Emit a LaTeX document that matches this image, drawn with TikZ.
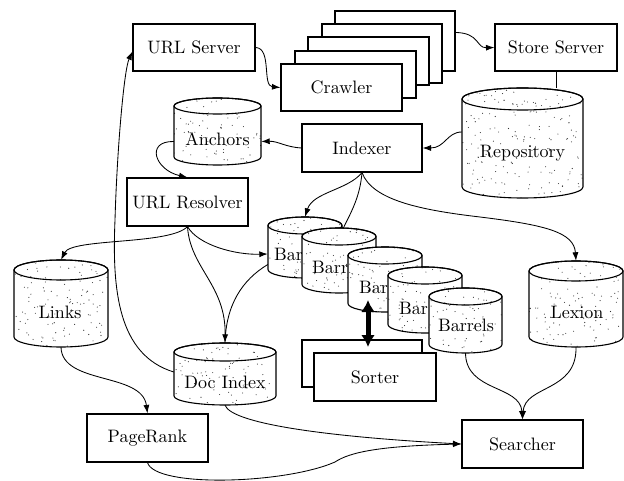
\documentclass[tikz,border=0pt]{standalone}
\usepackage{graphicx}
\usetikzlibrary{arrows.meta,calc}
\newcommand\tx[1]{\scalebox{1.8}{#1}}
\tikzset{
  box/.style={draw, line width=1.1pt, fill=white, inner sep=0pt, font=\fontsize{10}{12}\selectfont},
  conn/.style={line width=0.85pt, -{Latex[length=8.5pt,width=6pt]}},
  plain/.style={line width=0.85pt},
  lbl/.style={inner sep=0pt, font=\fontsize{10}{12}\selectfont},
  ghost/.style={inner sep=0pt, draw=none},
}
% name, xl, ytop, xr, ybottom, ry
\newcommand\mycyl[6]{%
  \pgfmathsetmacro\crx{(#4-#2)/2}%
  \pgfmathsetmacro\ctop{#3+#6}%
  \pgfmathsetmacro\cbot{#5-#6}%
  \pgfmathsetmacro\ccx{(#2+#4)/2}%
  \pgfmathsetmacro\ccy{(#3+#5)/2}%
  \pgfmathsetmacro\cw{#4-#2}%
  \pgfmathsetmacro\ch{#5-#3}%
  \pgfmathtruncatemacro\cn{(#4-#2)*(#5-#3)/75}%
  \draw[line width=1.1pt, fill=white, path picture={
      \foreach \k in {1,...,\cn}{
        \fill[black!80] (#2+rnd*\cw, #3+rnd*\ch) circle[radius=0.55pt];
      }
    }]
    (#2,\ctop) -- (#2,\cbot)
    arc[start angle=180, end angle=360, x radius=\crx pt, y radius=#6pt]
    -- (#4,\ctop)
    arc[start angle=0, end angle=180, x radius=\crx pt, y radius=#6pt] -- cycle;
  \draw[line width=1.1pt] (\ccx,\ctop) ellipse[x radius=\crx pt, y radius=#6pt];
  \node[ghost, minimum width=\cw pt, minimum height=\ch pt] (#1) at (\ccx,\ccy) {};
}
\newcommand\cyllabel[4]{\node[lbl, anchor=west] (#1) at (#2,#3) {\tx{#4}};}
\begin{document}
\begin{tikzpicture}[x=1pt, y=-1pt]
\pgfmathsetseed{7}
\useasboundingbox (0,0) rectangle (624,481);

% boxes
\node[box, minimum width=122pt, minimum height=47pt] (urlserver) at (194,47.5) {\tx{URL Server}};
\node[box, minimum width=120pt, minimum height=60pt] (crawler4) at (395,41) {};
\node[box, minimum width=120pt, minimum height=59pt] (crawler3) at (382,53.5) {};
\node[box, minimum width=121pt, minimum height=48pt] (crawler2) at (368.5,61) {};
\node[box, minimum width=121pt, minimum height=47pt] (crawler1) at (355.5,74.5) {};
\node[box, minimum width=121pt, minimum height=47pt] (crawler) at (341.5,87.5) {\tx{Crawler}};
\node[box, minimum width=122pt, minimum height=47pt] (storeserver) at (556,47.5) {\tx{Store Server}};
\node[box, minimum width=120pt, minimum height=48pt] (indexer) at (362,148) {\tx{Indexer}};
\node[box, minimum width=121pt, minimum height=48pt] (urlresolver) at (187.5,202) {\tx{URL Resolver}};
\node[box, minimum width=121pt, minimum height=48pt] (pagerank) at (147.5,438) {\tx{PageRank}};
\node[box, minimum width=121pt, minimum height=48pt] (searcher) at (522.5,444) {\tx{Searcher}};
\node[box, minimum width=120pt, minimum height=47pt] (sorter2) at (362,363.5) {};
\node[box, minimum width=122pt, minimum height=48pt] (sorter) at (375,377) {\tx{Sorter}};

% cylinders
\mycyl{repository}{462}{88}{583}{198}{11}
\node[lbl] (repository-t) at (522.5,153) {\tx{Repository}};
\mycyl{anchors}{174}{98}{261}{165}{8}
\node[lbl] (anchors-t) at (217.5,139) {\tx{Anchors}};
\mycyl{links}{14}{260}{108}{347}{10}
\node[lbl] (links-t) at (60,312) {\tx{Links}};
\mycyl{docindex}{174}{343}{276}{405}{9}
\node[lbl] (docindex-t) at (225,382) {\tx{Doc Index}};
\mycyl{lexion}{529}{261}{623}{347}{10}
\node[lbl] (lexion-t) at (577,312) {\tx{Lexion}};
\mycyl{b1}{268}{217}{342}{278}{8.5}
\cyllabel{b1t}{274}{254}{Bar}
\mycyl{b2}{302}{228}{376}{293}{8.5}
\cyllabel{b2t}{312}{267}{Barr}
\mycyl{b3}{348}{247}{422}{312}{8.5}
\cyllabel{b3t}{359}{287}{Bar}
\mycyl{b4}{388}{267}{462}{333}{8.5}
\cyllabel{b4t}{399}{308}{Bar}
\mycyl{b5}{429}{288}{502}{353}{8.5}
\node[lbl] (b5-t) at (466,325) {\tx{Barrels}};

% connectors
\draw[conn] (urlserver.east) .. controls (272,48) and (262,86) .. (crawler.west);
\draw[conn] ($(crawler4.north east)+(0,22)$) .. controls (480,33) and (476,48) .. (storeserver.west);
\draw[plain] (storeserver.south) -- (storeserver.south |- repository.north);
\draw[conn] ($(repository.west)+(0,-11)$) .. controls (447,132) and (445,148) .. (indexer.east);
\draw[conn] (indexer.west) .. controls (285,147) and (278,141) .. ($(anchors.east)+(0,10)$);
\draw[conn] ($(anchors.west)+(0,10)$) .. controls (145,141) and (155,170) .. (urlresolver.north);
\draw[conn] (urlresolver.south) .. controls (170,245) and (72,238) .. (links.north);
\draw[conn] (urlresolver.south) .. controls (198,245) and (235,255) .. (b1.west |- b1t);
\draw[conn] (urlresolver.south) .. controls (190,268) and (226,285) .. (docindex.north);
\draw[plain] ($(b1.west)+(0,17)$) .. controls (242,280) and (226,305) .. (docindex.north);
\draw[conn] ($(docindex.west)+(0,-2)$) .. controls (118,355) and (112,290) .. (115,220)
   .. controls (117,150) and (124,70) .. ($(urlserver.west)+(0,4)$);
\draw[conn] (links.south) .. controls (62,385) and (142,372) .. (pagerank.north);
\draw[conn] (pagerank.south) .. controls (155,488) and (285,484) .. (335,462)
   .. controls (350,452) and (380,446) .. (searcher.west);
\draw[conn] (docindex.south) .. controls (232,424) and (330,437) .. (searcher.west);
\draw[conn] (indexer.south) .. controls (372,200) and (420,210) .. (480,217)
   .. controls (545,225) and (574,232) .. (lexion.north);
\draw[conn] (indexer.south) .. controls (348,190) and (313,192) .. (b1.north);
\draw[plain] (indexer.south) .. controls (360,198) and (350,214) .. ($(b2.north)+(4,1)$);
\draw[conn] (b5.south) .. controls (466,392) and (520,385) .. (searcher.north);
\draw[conn] (lexion.south) .. controls (577,392) and (525,385) .. (searcher.north);

% thick double arrow
\coordinate (sa) at (368,300);
\coordinate (sb) at (368,347);
\draw[line width=5pt, {Latex[length=12pt,width=14pt]}-{Latex[length=12pt,width=14pt]}] (sa) -- (sb);
\end{tikzpicture}
\end{document}
